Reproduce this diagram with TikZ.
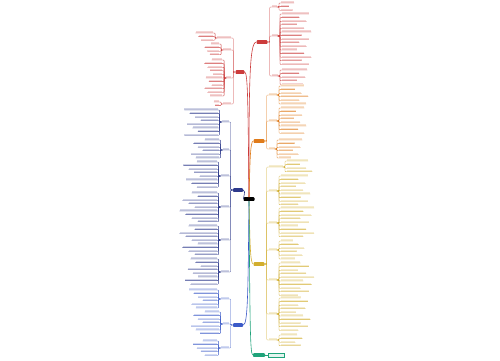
\documentclass[tikz,border=0pt]{standalone}
\usetikzlibrary{positioning}

\definecolor{mmred}{HTML}{CC3B3B}
\definecolor{mmorange}{HTML}{E07B1A}
\definecolor{mmyellow}{HTML}{D2AE2E}
\definecolor{mmblue}{HTML}{2E3A8C}
\definecolor{mmbluelow}{HTML}{3C5BC8}
\definecolor{mmgreen}{HTML}{1FA37A}

\tikzset{
  hub/.style={fill=#1, rounded corners=0.8pt, inner sep=0pt,
    minimum height=3.6pt, minimum width=11pt},
  leaf/.style={fill=#1!22, inner sep=0pt, minimum height=1.4pt},
  link/.style={#1, line width=0.3pt, rounded corners=0.8pt},
  main/.style={#1, line width=0.6pt}
}

% groups to the right of a hub: y / width / first child y / children / child width
\newcommand\rightgroups[4]{%
  \foreach \gy/\gw/\ky/\kn/\kw [count=\g] in {#4} {
    \node[leaf=#2, minimum width=\gw pt, anchor=south west] (#1-\g) at (#3,\gy) {};
    \draw[link=#2] (#1.east) -- ++(2pt,0) |- (#1-\g.south west) -- (#1-\g.south east);
    \pgfmathsetmacro\kx{#3+\gw+4}
    \foreach \k in {1,...,\kn} {
      \pgfmathsetmacro\kyy{\ky+(\k-1)*3.6}
      \pgfmathsetmacro\kww{\kw*(0.5+0.08*mod(\k*3+\g,7))}
      \node[leaf=#2, minimum width=\kww pt, anchor=south west] (#1-\g-\k) at (\kx,\kyy) {};
      \draw[link=#2] (#1-\g.south east) -- ++(2pt,0) |- (#1-\g-\k.south west)
        -- (#1-\g-\k.south east);
    }
  }%
}
% the same, to the left of a hub
\newcommand\leftgroups[4]{%
  \foreach \gy/\gw/\ky/\kn/\kw [count=\g] in {#4} {
    \node[leaf=#2, minimum width=\gw pt, anchor=south east] (#1-\g) at (#3,\gy) {};
    \draw[link=#2] (#1.west) -- ++(-2pt,0) |- (#1-\g.south east) -- (#1-\g.south west);
    \pgfmathsetmacro\kx{#3-\gw-4}
    \foreach \k in {1,...,\kn} {
      \pgfmathsetmacro\kyy{\ky+(\k-1)*3.6}
      \pgfmathsetmacro\kww{\kw*(0.5+0.08*mod(\k*5+\g,7))}
      \node[leaf=#2, minimum width=\kww pt, anchor=south east] (#1-\g-\k) at (\kx,\kyy) {};
      \draw[link=#2] (#1-\g.south west) -- ++(-2pt,0) |- (#1-\g-\k.south east)
        -- (#1-\g-\k.south west);
    }
  }%
}

\begin{document}
\begin{tikzpicture}[x=1pt,y=-1pt]
\fill[white] (0,0) rectangle (500,360);
\useasboundingbox (0,0) rectangle (500,360);

% Centre and main topics
\node[hub=black, minimum width=11pt] (C) at (249,199) {};
\node[hub=mmred] (RR) at (262,42) {};
\node[hub=mmred, minimum width=9pt] (RL) at (240,72) {};
\node[hub=mmorange] (OR) at (259,141) {};
\node[hub=mmyellow] (YE) at (259,264) {};
\node[hub=mmblue, minimum width=10pt] (BL) at (238,190) {};
\node[hub=mmbluelow, minimum width=10pt] (BB) at (238,325) {};
\node[hub=mmgreen, minimum width=12pt] (GR) at (259,355) {};

% Curves from the centre
\draw[main=mmred] (C.north) .. controls (249,90) and (249,42) .. (RR.west);
\draw[main=mmred] (C.north) .. controls (248,110) and (248,72) .. (RL.east);
\draw[main=mmorange] (C.north) .. controls (250,165) and (250,141) .. (OR.west);
\draw[main=mmblue] (C.west) .. controls (245,192) and (245,190) .. (BL.east);
\draw[main=mmyellow] (C.south) .. controls (250,240) and (250,264) .. (YE.west);
\draw[main=mmbluelow] (C.south) .. controls (248,290) and (248,325) .. (BB.east);
\draw[main=mmgreen] (C.south) .. controls (250,320) and (250,355) .. (GR.west);

% Red, top right
\rightgroups{RR}{mmred}{271.5}{7/5/3/3/16, 36/6/14/15/30, 76/6/70/5/26}

% Red, left
\leftgroups{RL}{mmred}{231.5}{38/14/33/3/18, 50/8/44/4/16, 78/5/60/11/18, 104/8/102/2/8}

% Orange
\rightgroups{OR}{mmorange}{268.5}{95/8/86/6/28, 121/8/108/8/26, 149/6/140/6/24}

% Yellow
\rightgroups{YE}{mmyellow}{268.5}{167/14/161/4/26, 191/8/176/9/30, 223/8/208/9/34,
  250/8/241/6/24, 280/8/263/10/34, 314/8/298/10/30, 340/8/335/4/22}

% Blue, left
\leftgroups{BL}{mmblue}{229}{122/7/110/8/34, 150/6/140/6/28, 176/8/162/8/34,
  207/8/193/9/38, 240/8/226/9/38, 272/8/259/8/32}

% Blue, lower left
\leftgroups{BB}{mmbluelow}{229}{299/8/290/6/28, 324/6/312/7/28, 348/8/341/5/24}

% Green
\node[fill=mmgreen!12, draw=mmgreen, line width=0.3pt, inner sep=0pt,
  minimum width=16pt, minimum height=3.6pt, right=3pt of GR] (GR-1) {};
\draw[link=mmgreen] (GR.east) -- (GR-1.west);
\end{tikzpicture}
\end{document}
